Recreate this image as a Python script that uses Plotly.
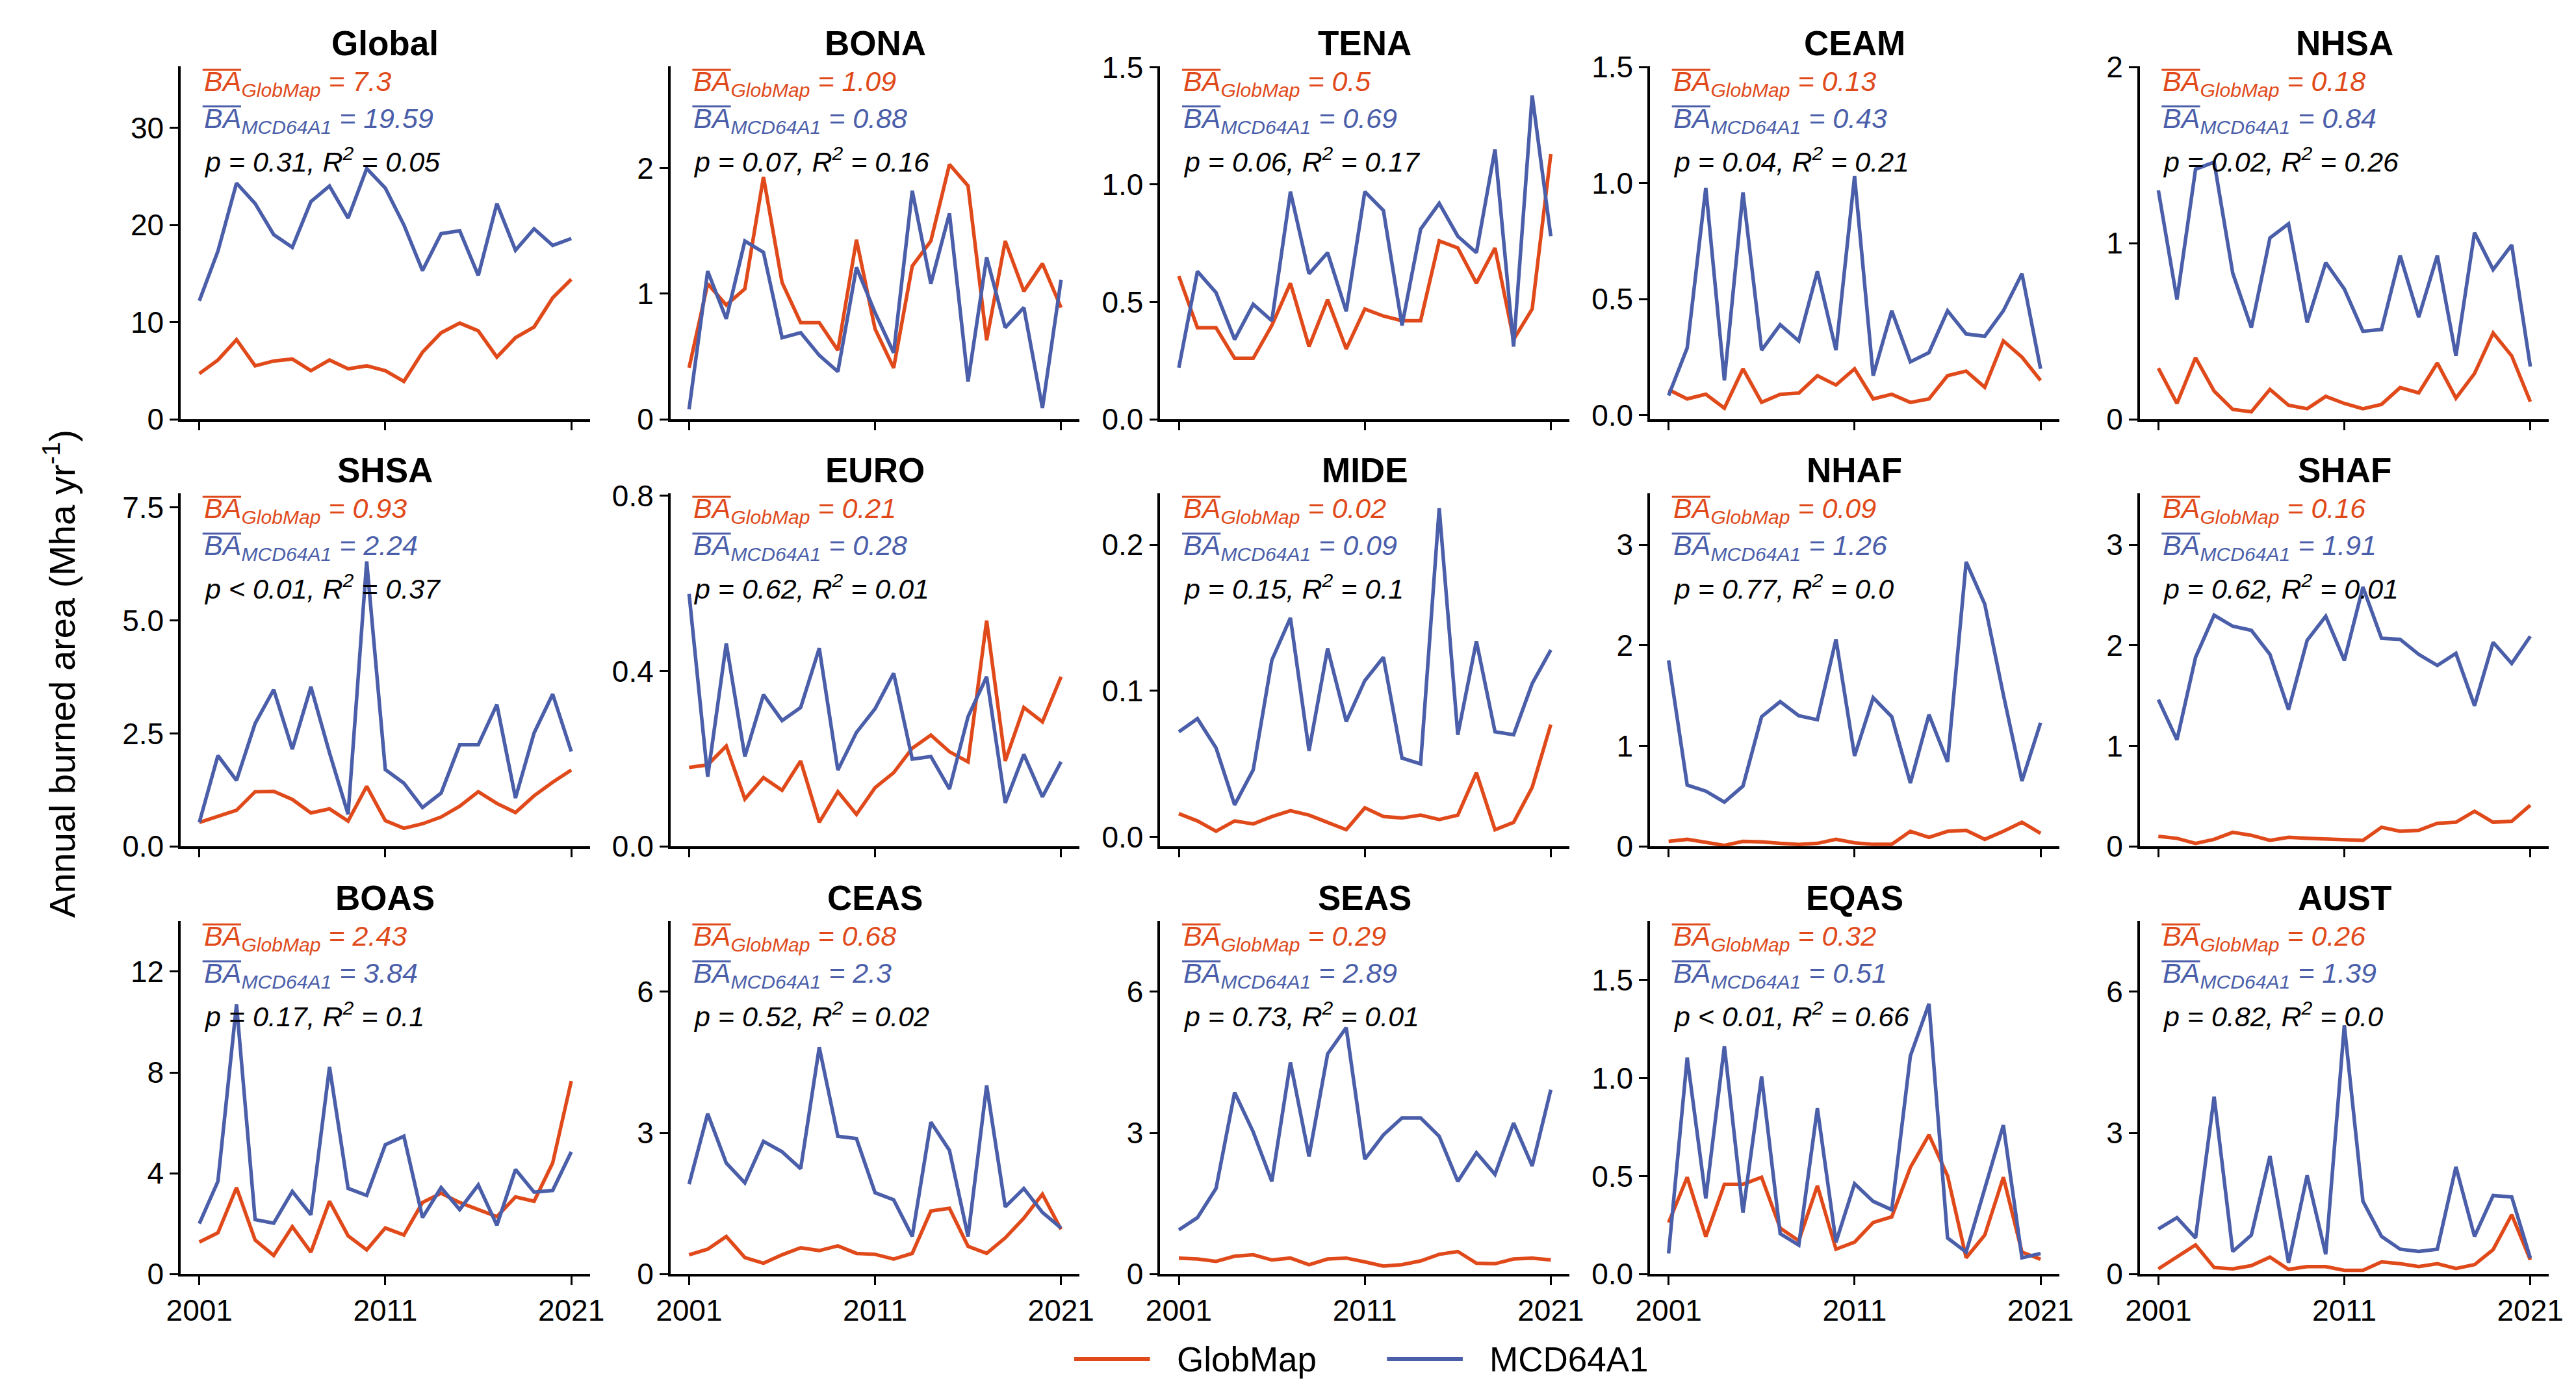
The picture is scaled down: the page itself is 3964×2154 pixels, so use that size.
import plotly.graph_objects as go

# ---- data (Mha / yr) ----
years = [2001, 2002, 2003, 2004, 2005, 2006, 2007, 2008, 2009, 2010, 2011,
         2012, 2013, 2014, 2015, 2016, 2017, 2018, 2019, 2020, 2021]

global_gm = [4.7, 6.1, 8.2, 5.5, 6.0, 6.2, 5.0, 6.1, 5.2, 5.5, 5.0, 3.9, 6.9, 8.9, 9.9, 9.1, 6.4, 8.4, 9.5, 12.5, 14.4]
global_mcd = [12.2, 17.3, 24.3, 22.2, 19.0, 17.7, 22.4, 24.0, 20.7, 25.8, 23.8, 20.0, 15.3, 19.1, 19.4, 14.8, 22.2, 17.4, 19.6, 17.9, 18.6]

bona_gm = [0.41, 1.08, 0.91, 1.04, 1.93, 1.09, 0.77, 0.77, 0.55, 1.43, 0.72, 0.41, 1.22, 1.42, 2.03, 1.86, 0.63, 1.42, 1.02, 1.24, 0.89]
bona_mcd = [0.08, 1.18, 0.80, 1.42, 1.33, 0.65, 0.69, 0.51, 0.38, 1.21, 0.85, 0.53, 1.82, 1.08, 1.64, 0.30, 1.29, 0.73, 0.89, 0.09, 1.11]

tena_gm = [0.61, 0.39, 0.39, 0.26, 0.26, 0.40, 0.58, 0.31, 0.51, 0.30, 0.47, 0.44, 0.42, 0.42, 0.76, 0.73, 0.58, 0.73, 0.34, 0.47, 1.13]
tena_mcd = [0.22, 0.63, 0.54, 0.34, 0.49, 0.42, 0.97, 0.62, 0.71, 0.46, 0.97, 0.89, 0.40, 0.81, 0.92, 0.78, 0.71, 1.15, 0.31, 1.38, 0.78]

ceam_gm = [0.11, 0.07, 0.09, 0.03, 0.20, 0.055, 0.09, 0.095, 0.17, 0.13, 0.20, 0.07, 0.09, 0.055, 0.07, 0.17, 0.19, 0.12, 0.32, 0.25, 0.15]
ceam_mcd = [0.085, 0.29, 0.98, 0.15, 0.96, 0.28, 0.39, 0.32, 0.62, 0.28, 1.03, 0.17, 0.45, 0.23, 0.27, 0.45, 0.35, 0.34, 0.45, 0.61, 0.20]

nhsa_gm = [0.29, 0.09, 0.35, 0.16, 0.056, 0.043, 0.17, 0.08, 0.06, 0.13, 0.09, 0.06, 0.085, 0.18, 0.15, 0.32, 0.12, 0.26, 0.49, 0.36, 0.10]
nhsa_mcd = [1.30, 0.68, 1.42, 1.46, 0.83, 0.52, 1.03, 1.11, 0.55, 0.89, 0.74, 0.50, 0.51, 0.93, 0.58, 0.93, 0.36, 1.06, 0.85, 0.99, 0.30]

shsa_gm = [0.53, 0.67, 0.80, 1.21, 1.22, 1.04, 0.74, 0.83, 0.56, 1.33, 0.57, 0.40, 0.50, 0.65, 0.89, 1.21, 0.95, 0.75, 1.12, 1.42, 1.69]
shsa_mcd = [0.53, 2.01, 1.46, 2.72, 3.47, 2.15, 3.53, 2.07, 0.71, 6.31, 1.70, 1.40, 0.86, 1.18, 2.25, 2.25, 3.14, 1.07, 2.51, 3.37, 2.10]

euro_gm = [0.180, 0.186, 0.229, 0.108, 0.157, 0.128, 0.195, 0.055, 0.125, 0.073, 0.134, 0.168, 0.224, 0.254, 0.216, 0.193, 0.515, 0.195, 0.317, 0.284, 0.387]
euro_mcd = [0.576, 0.159, 0.463, 0.205, 0.346, 0.287, 0.317, 0.452, 0.174, 0.260, 0.314, 0.395, 0.199, 0.205, 0.131, 0.296, 0.387, 0.099, 0.210, 0.113, 0.193]

mide_gm = [0.016, 0.011, 0.004, 0.011, 0.009, 0.014, 0.018, 0.015, 0.010, 0.005, 0.020, 0.014, 0.013, 0.015, 0.012, 0.015, 0.044, 0.005, 0.010, 0.034, 0.077]
mide_mcd = [0.072, 0.081, 0.061, 0.022, 0.046, 0.121, 0.150, 0.059, 0.129, 0.079, 0.107, 0.123, 0.054, 0.050, 0.225, 0.070, 0.134, 0.072, 0.070, 0.105, 0.128]

nhaf_gm = [0.05, 0.07, 0.04, 0.01, 0.05, 0.045, 0.03, 0.02, 0.03, 0.07, 0.035, 0.02, 0.02, 0.15, 0.09, 0.15, 0.16, 0.07, 0.15, 0.24, 0.13]
nhaf_mcd = [1.85, 0.61, 0.55, 0.44, 0.60, 1.29, 1.44, 1.30, 1.26, 2.06, 0.90, 1.48, 1.29, 0.63, 1.31, 0.84, 2.83, 2.41, 1.51, 0.65, 1.23]

shaf_gm = [0.10, 0.08, 0.03, 0.07, 0.14, 0.11, 0.06, 0.09, 0.08, 0.075, 0.07, 0.06, 0.19, 0.15, 0.16, 0.23, 0.24, 0.35, 0.24, 0.25, 0.41]
shaf_mcd = [1.46, 1.06, 1.88, 2.30, 2.19, 2.15, 1.91, 1.36, 2.05, 2.29, 1.85, 2.58, 2.07, 2.06, 1.91, 1.80, 1.92, 1.40, 2.03, 1.82, 2.09]

boas_gm = [1.27, 1.64, 3.43, 1.35, 0.74, 1.88, 0.87, 2.89, 1.52, 0.96, 1.83, 1.55, 2.84, 3.21, 2.84, 2.56, 2.28, 3.06, 2.89, 4.41, 7.66]
boas_mcd = [2.00, 3.68, 10.7, 2.16, 2.02, 3.28, 2.35, 8.22, 3.40, 3.12, 5.13, 5.47, 2.24, 3.43, 2.56, 3.54, 1.94, 4.15, 3.25, 3.32, 4.85]

ceas_gm = [0.41, 0.53, 0.80, 0.35, 0.23, 0.41, 0.56, 0.50, 0.60, 0.44, 0.42, 0.32, 0.44, 1.34, 1.40, 0.59, 0.44, 0.77, 1.19, 1.70, 0.95]
ceas_mcd = [1.91, 3.41, 2.36, 1.94, 2.82, 2.60, 2.24, 4.82, 2.93, 2.88, 1.73, 1.58, 0.80, 3.23, 2.63, 0.80, 4.01, 1.43, 1.82, 1.31, 0.98]

seas_gm = [0.34, 0.32, 0.27, 0.38, 0.41, 0.30, 0.34, 0.20, 0.32, 0.34, 0.26, 0.17, 0.20, 0.28, 0.42, 0.48, 0.23, 0.22, 0.32, 0.34, 0.30]
seas_mcd = [0.94, 1.20, 1.82, 3.86, 3.02, 1.97, 4.50, 2.50, 4.68, 5.24, 2.44, 2.96, 3.32, 3.32, 2.93, 1.97, 2.58, 2.12, 3.21, 2.30, 3.92]

eqas_gm = [0.263, 0.494, 0.191, 0.458, 0.458, 0.494, 0.235, 0.170, 0.451, 0.127, 0.163, 0.263, 0.292, 0.544, 0.710, 0.501, 0.083, 0.199, 0.494, 0.112, 0.076]
eqas_mcd = [0.105, 1.105, 0.386, 1.163, 0.314, 1.008, 0.206, 0.148, 0.846, 0.163, 0.461, 0.371, 0.328, 1.113, 1.379, 0.184, 0.112, 0.429, 0.760, 0.083, 0.105]

aust_gm = [0.11, 0.36, 0.62, 0.14, 0.11, 0.18, 0.36, 0.10, 0.16, 0.16, 0.08, 0.08, 0.26, 0.22, 0.16, 0.22, 0.12, 0.20, 0.52, 1.26, 0.30]
aust_mcd = [0.96, 1.20, 0.77, 3.77, 0.48, 0.83, 2.51, 0.24, 2.10, 0.42, 5.29, 1.55, 0.80, 0.53, 0.48, 0.53, 2.28, 0.80, 1.67, 1.64, 0.34]

regions = ["Global", "BONA", "TENA", "CEAM", "NHSA",
           "SHSA", "EURO", "MIDE", "NHAF", "SHAF",
           "BOAS", "CEAS", "SEAS", "EQAS", "AUST"]
gm_series = [global_gm, bona_gm, tena_gm, ceam_gm, nhsa_gm,
             shsa_gm, euro_gm, mide_gm, nhaf_gm, shaf_gm,
             boas_gm, ceas_gm, seas_gm, eqas_gm, aust_gm]
mcd_series = [global_mcd, bona_mcd, tena_mcd, ceam_mcd, nhsa_mcd,
              shsa_mcd, euro_mcd, mide_mcd, nhaf_mcd, shaf_mcd,
              boas_mcd, ceas_mcd, seas_mcd, eqas_mcd, aust_mcd]

mean_gm = ["7.3", "1.09", "0.5", "0.13", "0.18", "0.93", "0.21", "0.02",
           "0.09", "0.16", "2.43", "0.68", "0.29", "0.32", "0.26"]
mean_mcd = ["19.59", "0.88", "0.69", "0.43", "0.84", "2.24", "0.28", "0.09",
            "1.26", "1.91", "3.84", "2.3", "2.89", "0.51", "1.39"]
p_text = ["= 0.31", "= 0.07", "= 0.06", "= 0.04", "= 0.02", "< 0.01", "= 0.62", "= 0.15",
          "= 0.77", "= 0.62", "= 0.17", "= 0.52", "= 0.73", "< 0.01", "= 0.82"]
r2_text = ["0.05", "0.16", "0.17", "0.21", "0.26", "0.37", "0.01", "0.1",
           "0.0", "0.01", "0.1", "0.02", "0.01", "0.66", "0.0"]

y_ticks = [[0, 10, 20, 30], [0, 1, 2], [0, 0.5, 1.0, 1.5], [0, 0.5, 1.0, 1.5], [0, 1, 2],
           [0, 2.5, 5.0, 7.5], [0, 0.4, 0.8], [0, 0.1, 0.2], [0, 1, 2, 3], [0, 1, 2, 3],
           [0, 4, 8, 12], [0, 3, 6], [0, 3, 6], [0, 0.5, 1.0, 1.5], [0, 3, 6]]
y_fmt = ["d", "d", ".1f", ".1f", "d", ".1f", ".1f", ".1f", "d", "d", "d", "d", "d", ".1f", "d"]
y_lo = [0, 0, 0, -0.018, 0, 0, 0, -0.0064, 0, 0, 0, 0, 0, 0, 0]
y_hi = [36.3, 2.81, 1.503, 1.503, 2.003, 7.81, 0.805, 0.235, 3.51, 3.51, 14.0, 7.5, 7.5, 1.80, 7.5]
x_ticks = [2001, 2011, 2021]

ORANGE = "#e04a1b"
BLUE = "#4a5ea9"
FONT = "Liberation Sans, Arial, Helvetica, sans-serif"

W, H = 3964, 2154
COL_LEFT = 250
COL_STEP = 762.5
PANEL_W = 637
ROW_TOP = [71, 744, 1418]
PANEL_H = 556
STAT_SIZE = 43


def px(x):
    return x / W


def py(y):
    return 1 - y / H


fig = go.Figure()
annotations = []
shapes = []

for i, name in enumerate(regions):
    r, c = divmod(i, 5)
    left = COL_LEFT + c * COL_STEP
    top = ROW_TOP[r]
    ax = "" if i == 0 else str(i + 1)

    fig.add_trace(go.Scatter(x=years, y=gm_series[i], mode="lines",
                             line=dict(color=ORANGE, width=5.5),
                             name="GlobMap", showlegend=False,
                             xaxis="x" + ax, yaxis="y" + ax))
    fig.add_trace(go.Scatter(x=years, y=mcd_series[i], mode="lines",
                             line=dict(color=BLUE, width=5.5),
                             name="MCD64A1", showlegend=False,
                             xaxis="x" + ax, yaxis="y" + ax))

    fig.layout["xaxis" + ax] = dict(
        domain=[px(left), px(left + PANEL_W)], anchor="y" + ax,
        range=[2000, 2022], tickvals=x_ticks,
        showticklabels=(r == 2),
        showline=True, linecolor="black", linewidth=3.5,
        ticks="outside", ticklen=13, tickwidth=3, tickcolor="black",
        showgrid=False, zeroline=False,
        tickfont=dict(family=FONT, size=46, color="black"),
    )
    fig.layout["yaxis" + ax] = dict(
        domain=[py(top + PANEL_H), py(top)], anchor="x" + ax,
        range=[y_lo[i], y_hi[i]], tickvals=y_ticks[i], tickformat=y_fmt[i],
        showline=True, linecolor="black", linewidth=3.5,
        ticks="outside", ticklen=13, tickwidth=3, tickcolor="black",
        showgrid=False, zeroline=False,
        tickfont=dict(family=FONT, size=46, color="black"),
    )

    # panel title
    annotations.append(dict(
        text="<b>%s</b>" % name, x=px(left + PANEL_W / 2), y=py(top),
        xref="paper", yref="paper", xanchor="center", yanchor="bottom",
        yshift=4, showarrow=False,
        font=dict(family=FONT, size=53, color="black")))

    # statistics text
    tx = px(left + 34)
    annotations.append(dict(
        text="<i>BA<sub>GlobMap</sub> = %s</i>" % mean_gm[i],
        x=tx, y=py(top + 45), xref="paper", yref="paper",
        xanchor="left", yanchor="bottom", yshift=-11, showarrow=False,
        font=dict(family=FONT, size=STAT_SIZE, color=ORANGE)))
    annotations.append(dict(
        text="<i>BA<sub>MCD64A1</sub> = %s</i>" % mean_mcd[i],
        x=tx, y=py(top + 103), xref="paper", yref="paper",
        xanchor="left", yanchor="bottom", yshift=-11, showarrow=False,
        font=dict(family=FONT, size=STAT_SIZE, color=BLUE)))
    annotations.append(dict(
        text="<i>p %s, R<sup>2</sup> = %s</i>" % (p_text[i], r2_text[i]),
        x=tx, y=py(top + 166), xref="paper", yref="paper",
        xanchor="left", yanchor="bottom", yshift=-11, showarrow=False,
        font=dict(family=FONT, size=STAT_SIZE, color="black")))

    # overlines on the mean symbols
    shapes.append(dict(type="line", xref="paper", yref="paper",
                       x0=px(left + 34), x1=px(left + 94),
                       y0=py(top + 5), y1=py(top + 5),
                       line=dict(color=ORANGE, width=3)))
    shapes.append(dict(type="line", xref="paper", yref="paper",
                       x0=px(left + 34), x1=px(left + 94),
                       y0=py(top + 63), y1=py(top + 63),
                       line=dict(color=BLUE, width=3)))

# shared y-axis title
annotations.append(dict(
    text="Annual burned area (Mha yr<sup>-1</sup>)", textangle=-90,
    x=px(62), y=py(1028), xref="paper", yref="paper",
    xanchor="center", yanchor="middle", showarrow=False,
    font=dict(family=FONT, size=56, color="black")))

# legend drawn by hand so the line samples match the reference length
legend_items = [("GlobMap", ORANGE, 1641), ("MCD64A1", BLUE, 2128)]
for label, color, lx in legend_items:
    shapes.append(dict(type="line", xref="paper", yref="paper",
                       x0=px(lx), x1=px(lx + 118), y0=py(2108), y1=py(2108),
                       line=dict(color=color, width=6)))
    annotations.append(dict(
        text=label, x=px(lx + 158), y=py(2108), xref="paper", yref="paper",
        xanchor="left", yanchor="middle", showarrow=False,
        font=dict(family=FONT, size=53, color="black")))

fig.update_layout(
    width=W, height=H,
    margin=dict(l=0, r=0, t=0, b=0),
    paper_bgcolor="white", plot_bgcolor="white",
    showlegend=False,
    annotations=annotations, shapes=shapes,
    font=dict(family=FONT, color="black"),
)

fig.write_html("out.html")
